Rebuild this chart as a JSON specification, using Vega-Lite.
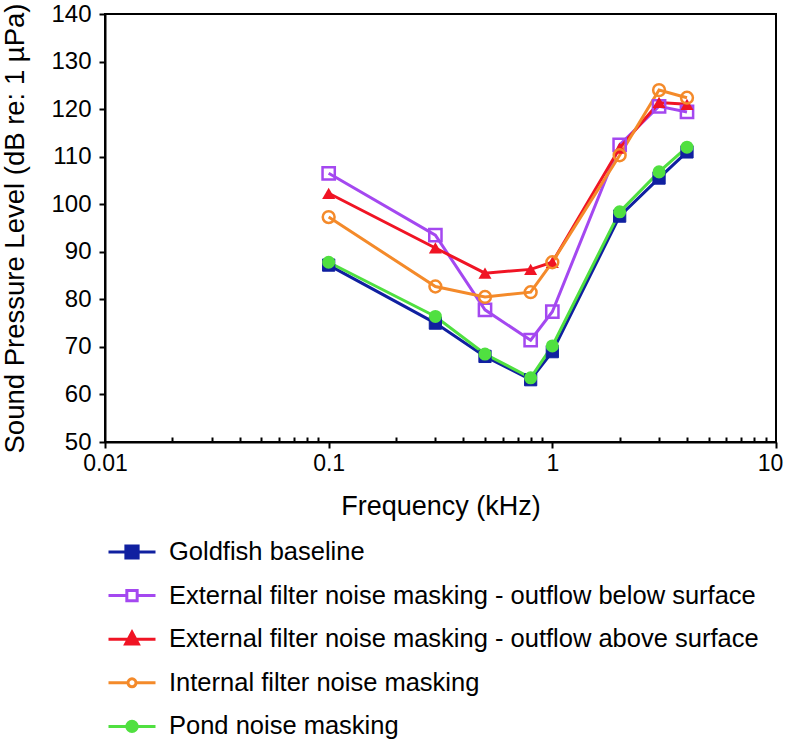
{
  "$schema": "https://vega.github.io/schema/vega-lite/v6.json",
  "width": 671,
  "height": 428,
  "autosize": {"type": "none"},
  "padding": {"left": 105, "top": 14, "right": 11, "bottom": 300},
  "config": {
    "font": "Liberation Sans",
    "view": {"stroke": "black", "strokeWidth": 2},
    "axis": {"domainColor": "black", "domainWidth": 2, "tickColor": "black", "tickWidth": 2, "labelColor": "black", "titleColor": "black", "grid": false, "labelFont": "Liberation Sans", "titleFont": "Liberation Sans", "titleFontWeight": "normal"},
    "legend": {"labelFont": "Liberation Sans", "labelColor": "black"}
  },
  "data": {
    "values": [
      {"series": "Goldfish baseline", "freq": 0.1, "spl": 87.2},
      {"series": "Goldfish baseline", "freq": 0.3, "spl": 75.0},
      {"series": "Goldfish baseline", "freq": 0.5, "spl": 68.0},
      {"series": "Goldfish baseline", "freq": 0.8, "spl": 63.1},
      {"series": "Goldfish baseline", "freq": 1, "spl": 69.0},
      {"series": "Goldfish baseline", "freq": 2, "spl": 97.5},
      {"series": "Goldfish baseline", "freq": 3, "spl": 105.5},
      {"series": "Goldfish baseline", "freq": 4, "spl": 111.0},
      {"series": "External filter noise masking - outflow below surface", "freq": 0.1, "spl": 106.5},
      {"series": "External filter noise masking - outflow below surface", "freq": 0.3, "spl": 93.5},
      {"series": "External filter noise masking - outflow below surface", "freq": 0.5, "spl": 77.8},
      {"series": "External filter noise masking - outflow below surface", "freq": 0.8, "spl": 71.4},
      {"series": "External filter noise masking - outflow below surface", "freq": 1, "spl": 77.4},
      {"series": "External filter noise masking - outflow below surface", "freq": 2, "spl": 112.5},
      {"series": "External filter noise masking - outflow below surface", "freq": 3, "spl": 120.6},
      {"series": "External filter noise masking - outflow below surface", "freq": 4, "spl": 119.4},
      {"series": "External filter noise masking - outflow above surface", "freq": 0.1, "spl": 102.3},
      {"series": "External filter noise masking - outflow above surface", "freq": 0.3, "spl": 90.8},
      {"series": "External filter noise masking - outflow above surface", "freq": 0.5, "spl": 85.5},
      {"series": "External filter noise masking - outflow above surface", "freq": 0.8, "spl": 86.3},
      {"series": "External filter noise masking - outflow above surface", "freq": 1, "spl": 87.8},
      {"series": "External filter noise masking - outflow above surface", "freq": 2, "spl": 111.8},
      {"series": "External filter noise masking - outflow above surface", "freq": 3, "spl": 121.4},
      {"series": "External filter noise masking - outflow above surface", "freq": 4, "spl": 121.0},
      {"series": "Internal filter noise masking", "freq": 0.1, "spl": 97.3},
      {"series": "Internal filter noise masking", "freq": 0.3, "spl": 82.7},
      {"series": "Internal filter noise masking", "freq": 0.5, "spl": 80.5},
      {"series": "Internal filter noise masking", "freq": 0.8, "spl": 81.5},
      {"series": "Internal filter noise masking", "freq": 1, "spl": 87.8},
      {"series": "Internal filter noise masking", "freq": 2, "spl": 110.3},
      {"series": "Internal filter noise masking", "freq": 3, "spl": 124.0},
      {"series": "Internal filter noise masking", "freq": 4, "spl": 122.4},
      {"series": "Pond noise masking", "freq": 0.1, "spl": 87.8},
      {"series": "Pond noise masking", "freq": 0.3, "spl": 76.4},
      {"series": "Pond noise masking", "freq": 0.5, "spl": 68.5},
      {"series": "Pond noise masking", "freq": 0.8, "spl": 63.5},
      {"series": "Pond noise masking", "freq": 1, "spl": 70.2},
      {"series": "Pond noise masking", "freq": 2, "spl": 98.4},
      {"series": "Pond noise masking", "freq": 3, "spl": 106.8},
      {"series": "Pond noise masking", "freq": 4, "spl": 112.0}
    ]
  },
  "encoding": {
    "x": {
      "field": "freq", "type": "quantitative",
      "scale": {"type": "log", "domain": [0.01, 10], "nice": false},
      "axis": {
        "title": "Frequency (kHz)",
        "titleFontSize": 27,
        "titlePadding": 18,
        "labelFontSize": 23,
        "labelPadding": 4,
        "values": [0.01, 0.02, 0.03, 0.04, 0.05, 0.06, 0.07, 0.08, 0.09, 0.1, 0.2, 0.3, 0.4, 0.5, 0.6, 0.7, 0.8, 0.9, 1, 2, 3, 4, 5, 6, 7, 8, 9, 10],
        "labelExpr": "datum.value == 0.01 ? '0.01' : datum.value == 0.1 ? '0.1' : datum.value == 1 ? '1' : datum.value == 10 ? '10' : ''",
        "labelOffset": {"condition": {"test": "datum.value == 10", "value": -6}, "value": 0},
        "tickSize": {"condition": {"test": "datum.value == 0.01 || datum.value == 0.1 || datum.value == 1 || datum.value == 10", "value": 6}, "value": -5},
        "labelFlush": false,
        "labelOverlap": false
      }
    },
    "y": {
      "field": "spl", "type": "quantitative",
      "scale": {"domain": [50, 140], "nice": false, "zero": false},
      "axis": {
        "title": "Sound Pressure Level (dB re: 1 µPa)",
        "titleFontSize": 27.5,
        "titlePadding": 21,
        "labelFontSize": 24,
        "labelPadding": 8,
        "tickSize": 6,
        "values": [50, 60, 70, 80, 90, 100, 110, 120, 130, 140]
      }
    },
    "color": {
      "field": "series", "type": "nominal",
      "scale": {
        "domain": ["Goldfish baseline", "External filter noise masking - outflow below surface", "External filter noise masking - outflow above surface", "Internal filter noise masking", "Pond noise masking"],
        "range": ["#1020a0", "#a448f0", "#f01424", "#f48a2a", "#50e040"]
      },
      "legend": {
        "title": null,
        "orient": "none",
        "legendX": 2,
        "legendY": 513,
        "padding": 0,
        "labelFontSize": 25.5,
        "labelOffset": 12,
        "rowPadding": 4.6,
        "symbolSize": 2209,
        "symbolStrokeWidth": 3,
        "labelLimit": 700,
        "encode": {
          "symbols": {
            "update": {
              "shape": {"signal": "datum.value === 'Goldfish baseline' ? 'M-1,0H1M-0.26,-0.26H0.26V0.26H-0.26Z' : datum.value === 'External filter noise masking - outflow below surface' ? 'M-1,0H-0.22M0.22,0H1M-0.22,-0.22H0.22V0.22H-0.22Z' : datum.value === 'External filter noise masking - outflow above surface' ? 'M-1,0H1M-0.27,0.2L0,-0.3L0.27,0.2Z' : datum.value === 'Internal filter noise masking' ? 'M-1,0H-0.17M0.17,0H1M-0.17,0A0.17,0.17,0,1,1,0.17,0A0.17,0.17,0,1,1,-0.17,0Z' : 'M-1,0H1M-0.22,0A0.22,0.22,0,1,1,0.22,0A0.22,0.22,0,1,1,-0.22,0Z'"},
              "fill": {"signal": "datum.value === 'Goldfish baseline' ? '#1a2a9a' : datum.value === 'External filter noise masking - outflow above surface' ? '#f01424' : datum.value === 'Pond noise masking' ? '#50e040' : 'white'"},
              "fillOpacity": {"signal": "datum.value === 'External filter noise masking - outflow below surface' || datum.value === 'Internal filter noise masking' ? 0 : 1"},
              "stroke": {"scale": "color", "field": "value"},
              "strokeWidth": {"value": 3},
              "opacity": {"value": 1}
            }
          }
        }
      }
    }
  },
  "layer": [
    {
      "mark": {"type": "line", "strokeWidth": 3}
    },
    {
      "transform": [{"filter": "datum.series === 'Goldfish baseline'"}],
      "mark": {"type": "point", "shape": "square", "filled": true, "size": 150, "opacity": 1, "stroke": "#1020a0", "strokeWidth": 1}
    },
    {
      "transform": [{"filter": "datum.series === 'External filter noise masking - outflow below surface'"}],
      "mark": {"type": "point", "shape": "square", "filled": false, "size": 150, "opacity": 1, "strokeWidth": 2.5}
    },
    {
      "transform": [{"filter": "datum.series === 'External filter noise masking - outflow above surface'"}],
      "mark": {"type": "point", "shape": "triangle-up", "filled": true, "size": 170, "opacity": 1}
    },
    {
      "transform": [{"filter": "datum.series === 'Internal filter noise masking'"}],
      "mark": {"type": "point", "shape": "circle", "filled": false, "size": 140, "opacity": 1, "strokeWidth": 2.5}
    },
    {
      "transform": [{"filter": "datum.series === 'Pond noise masking'"}],
      "mark": {"type": "point", "shape": "circle", "filled": true, "size": 170, "opacity": 1}
    }
  ]
}
